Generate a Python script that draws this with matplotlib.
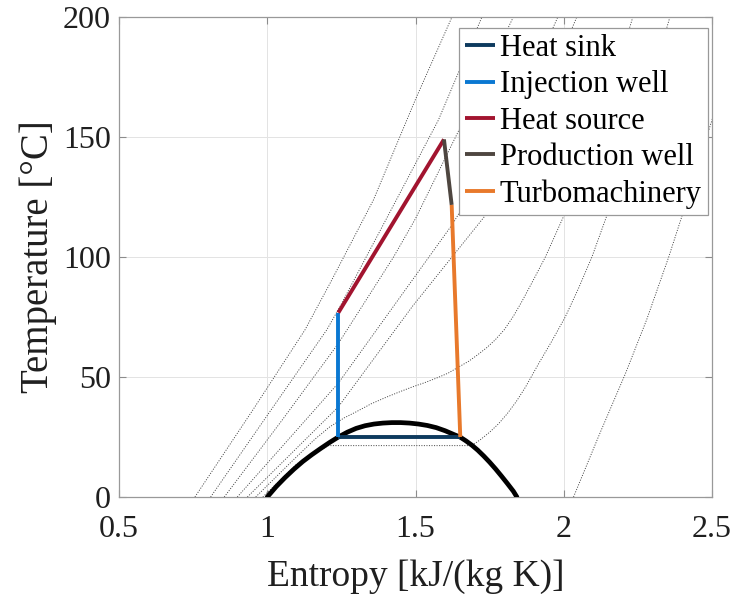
import matplotlib
matplotlib.use("Agg")
import matplotlib.pyplot as plt

plt.rcParams['font.family'] = ['Liberation Serif', 'DejaVu Serif']

# ---------------- data ----------------
# saturation dome of CO2 (entropy kJ/(kg K), temperature degC)
dome_s = [1.0, 1.03, 1.06, 1.09, 1.12, 1.15, 1.18, 1.21, 1.24, 1.27, 1.30, 1.33, 1.36, 1.39,
          1.42, 1.45, 1.48, 1.51, 1.54, 1.57, 1.60, 1.63, 1.65, 1.67, 1.69, 1.71, 1.73, 1.75,
          1.77, 1.79, 1.81, 1.83, 1.842]
dome_T = [0.0, 4.3, 8.1, 11.6, 14.8, 17.6, 20.2, 22.7, 25.0, 27.0, 28.6, 29.7, 30.4, 30.8,
          31.0, 31.0, 30.8, 30.4, 29.8, 28.9, 27.6, 26.0, 25.0, 23.4, 21.6, 19.5, 17.1, 14.5,
          11.7, 8.7, 5.6, 2.4, 0.0]

# isobars (dotted)
iso1_s = [0.756, 0.95, 1.127, 1.2116, 1.358, 1.50, 1.623]
iso1_T = [0, 36, 69.6, 89, 123.75, 165.7, 200]
iso2_s = [0.809, 1.00, 1.2005, 1.245, 1.40, 1.577, 1.724]
iso2_T = [0, 34, 69.6, 79.3, 115.5, 157, 200]
iso3_s = [0.855, 1.05, 1.24, 1.426, 1.50, 1.657, 1.83]
iso3_T = [0, 32, 64, 100, 116, 155.5, 200]
iso4_s = [0.899, 1.05, 1.24, 1.49, 1.625, 1.80, 1.98]
iso4_T = [0, 21, 47.5, 90.5, 113.7, 150, 200]
iso5_s = [0.933, 1.08, 1.24, 1.49, 1.74, 1.90, 2.044]
iso5_T = [0, 18, 37.6, 79.5, 118, 158, 200]
iso6_s = [0.961, 1.08, 1.16, 1.2116, 1.26, 1.30, 1.35, 1.40, 1.45, 1.488, 1.53, 1.57, 1.61,
          1.646, 1.68, 1.71, 1.74, 1.769, 1.80, 1.83, 1.859, 1.90, 1.938, 1.999, 2.05, 2.10,
          2.17, 2.233]
iso6_T = [0, 14.5, 24, 29.3, 33, 35.5, 38.8, 41.5, 44, 45.8, 47.6, 49.5, 51.6,
          54.2, 56.6, 59.3, 62.2, 65.5, 69.8, 75.3, 81.5, 91, 100, 116.8, 133, 150,
          174, 200]
iso7_s = [0.985, 1.10, 1.205, 1.69, 1.72, 1.75, 1.78, 1.81, 1.84, 1.87, 1.915, 1.96, 2.005,
          2.05, 2.095, 2.144, 2.20, 2.25, 2.30, 2.358]
iso7_T = [0, 13.8, 21.4, 21.4, 24, 27, 30.5, 34.8, 39.8, 45.6, 55.5, 65, 75,
          87, 100, 116.8, 136, 155, 175, 200]
iso8_s = [2.033, 2.12, 2.208, 2.28, 2.354, 2.398, 2.489, 2.51]
iso8_T = [0, 26, 51.4, 74, 100, 116.8, 152.8, 161]

isobars_s = [iso1_s, iso2_s, iso3_s, iso4_s, iso5_s, iso6_s, iso7_s, iso8_s]
isobars_T = [iso1_T, iso2_T, iso3_T, iso4_T, iso5_T, iso6_T, iso7_T, iso8_T]

# cycle processes
sink_s = [1.651, 1.2397]
sink_T = [25.0, 25.0]
inj_s = [1.2397, 1.2397]
inj_T = [25.0, 76.8]
source_s = [1.2397, 1.596]
source_T = [76.8, 149.0]
prod_s = [1.596, 1.622]
prod_T = [149.0, 121.7]
turbo_s = [1.622, 1.651]
turbo_T = [121.7, 25.0]

labels = ["Heat sink", "Injection well", "Heat source", "Production well", "Turbomachinery"]
colors = ["#0D3A5E", "#0A78D2", "#A2142F", "#4E4640", "#E8792B"]

xticks = [0.5, 1.0, 1.5, 2.0, 2.5]
xtick_labels = ["0.5", "1", "1.5", "2", "2.5"]
yticks = [0, 50, 100, 150, 200]
ytick_labels = ["0", "50", "100", "150", "200"]

# ---------------- figure ----------------
fig = plt.figure(figsize=(7.36, 5.94), dpi=100)
ax = fig.add_axes([119/736, 1-497/594, 593/736, 480/594])

ax.grid(True, color='0.89', linewidth=0.7)
ax.set_axisbelow(True)

for s, T in zip(isobars_s, isobars_T):
    ax.plot(s, T, color='0.25', linewidth=0.65, linestyle=(0, (1.2, 1.6)), zorder=2)

ax.plot(dome_s, dome_T, color='black', linewidth=3.4, solid_capstyle='round',
        solid_joinstyle='round', zorder=3)

proc = [(sink_s, sink_T), (inj_s, inj_T), (source_s, source_T), (prod_s, prod_T), (turbo_s, turbo_T)]
handles = []
for (s, T), c, lab in zip(proc, colors, labels):
    h, = ax.plot(s, T, color=c, linewidth=2.8, label=lab, zorder=4, solid_capstyle='butt')
    handles.append(h)

ax.set_xlim(0.5, 2.5)
ax.set_ylim(0, 200)
ax.set_xticks(xticks)
ax.set_xticklabels(xtick_labels)
ax.set_yticks(yticks)
ax.set_yticklabels(ytick_labels)

ax.tick_params(axis='both', direction='in', length=5, width=0.8, color='0.55',
               labelsize=23, labelcolor='#1f1f1f', top=True, right=True)
ax.tick_params(axis='x', pad=13)
ax.tick_params(axis='y', pad=6)
for sp in ax.spines.values():
    sp.set_color('0.6')
    sp.set_linewidth(0.9)

ax.set_xlabel("Entropy [kJ/(kg K)]", fontsize=27, color='#1f1f1f')
ax.set_ylabel("Temperature [°C]", fontsize=28, color='#1f1f1f')
ax.xaxis.set_label_coords(0.5, -0.13)
ax.yaxis.set_label_coords(-0.105, 0.5)

leg = ax.legend(handles=handles, loc='upper right', bbox_to_anchor=(0.9933, 0.977),
                borderaxespad=0, fontsize=22, frameon=True, fancybox=False,
                framealpha=1, edgecolor='0.6', handlelength=1.0, handletextpad=0.15,
                labelspacing=0.24, borderpad=0.2)
leg.get_frame().set_linewidth(0.9)

fig.savefig('out.png', dpi=100)
